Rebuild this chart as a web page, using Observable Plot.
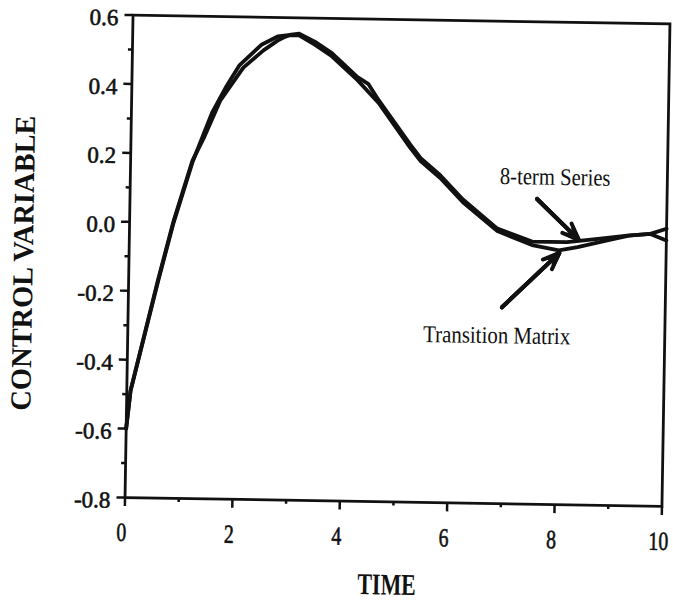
<!DOCTYPE html>
<html><head><meta charset="utf-8">
<script src="https://cdn.jsdelivr.net/npm/d3@7"></script>
<script src="https://cdn.jsdelivr.net/npm/@observablehq/plot@0.6"></script>
<style>
html,body{margin:0;padding:0;background:#fff;}
#chart{width:673px;height:602px;overflow:hidden;background:#fff;}
#chart svg{overflow:visible;}
#chart svg text{font-family:'Liberation Serif','Times New Roman',serif;}
#chart g[aria-label="y-axis tick label"], #chart g[aria-label="y-axis tick label"] text{font-size:23px;font-variant:normal;stroke:#111;stroke-width:0.6px;}
#chart g[aria-label="x-axis tick label"], #chart g[aria-label="x-axis tick label"] text{font-size:26px;font-variant:normal;stroke:#111;stroke-width:0.6px;}
</style></head><body><div id="chart"></div>
<script>
// Transition Matrix solution
const tmTime  = [0, 0.07, 0.55, 0.82, 1.15, 1.5, 1.75, 2.0, 2.4, 2.7, 2.9, 3.1, 3.4, 3.7, 4.2, 4.6, 5.2, 5.4, 5.77, 6.2, 6.85, 7.5, 8.0, 8.35, 8.9, 9.3, 9.7, 10];
const tmValue = [-0.60, -0.49, -0.17, 0.0, 0.175, 0.32, 0.395, 0.46, 0.52, 0.545, 0.549, 0.549, 0.522, 0.492, 0.422, 0.357, 0.229, 0.19, 0.142, 0.073, -0.009, -0.048, -0.062, -0.052, -0.031, -0.016, -0.010, -0.028];
// 8-term Series solution
const seriesTime  = [0, 0.07, 0.55, 0.82, 1.15, 1.35, 1.65, 2.07, 2.44, 2.7, 2.81, 2.95, 3.1, 3.4, 3.7, 4.2, 4.4, 4.6, 5.2, 5.4, 5.77, 6.2, 6.85, 7.5, 8.15, 8.77, 9.27, 9.7, 10];
const seriesValue = [-0.60, -0.49, -0.165, 0.005, 0.18, 0.245, 0.356, 0.453, 0.504, 0.533, 0.542, 0.551, 0.554, 0.531, 0.501, 0.431, 0.412, 0.365, 0.238, 0.199, 0.15, 0.081, -0.002, -0.038, -0.038, -0.026, -0.016, -0.010, 0.006];

const xTickValues = [0, 2, 4, 6, 8, 10];
const xTickLabels = ["0", "2", "4", "6", "8", "10"];
const xMinorTicks = [1, 3, 5, 7, 9];
const yTickValues = [-0.8, -0.6, -0.4, -0.2, 0, 0.2, 0.4, 0.6];
const yTickLabels = ["-0.8", "-0.6", "-0.4", "-0.2", "0.0", "0.2", "0.4", "0.6"];
const yMinorTicks = [-0.7, -0.5, -0.3, -0.1, 0.1, 0.3, 0.5];

const annotationLabels = ["8-term Series", "Transition Matrix"];
const annotationTime   = [7.91, 6.87];
const annotationValue  = [0.15, -0.312];
const arrowTailTime  = [7.58, 6.96];
const arrowTailValue = [0.086, -0.23];
const arrowTipTime   = [8.365, 8.01];
const arrowTipValue  = [-0.03, -0.07];

const xLabel = "TIME";
const yLabel = "CONTROL VARIABLE";

const lineData = [
  ...tmTime.map((t, i) => ({series: "Transition Matrix", time: t, value: tmValue[i]})),
  ...seriesTime.map((t, i) => ({series: "8-term Series", time: t, value: seriesValue[i]}))
];
const arrowIdx = arrowTailTime.map((_, i) => i);
const ink = "#111";
const arrowOpts = (hl, ha) => ({
  x1: i => arrowTailTime[i], y1: i => arrowTailValue[i],
  x2: i => arrowTipTime[i], y2: i => arrowTipValue[i],
  stroke: ink, strokeWidth: 4, headLength: hl, headAngle: ha
});
const serif = "'Liberation Serif', 'Times New Roman', serif";

const chart = Plot.plot({
  width: 673, height: 602,
  marginLeft: 128.5, marginRight: 7.5, marginTop: 19, marginBottom: 100.5,
  x: {domain: [0, 10], label: null},
  y: {domain: [-0.8, 0.6], label: null},
  style: {fontFamily: serif, color: ink, background: "#fff"},
  marks: [
    Plot.axisY(yTickValues, {tickSize: 8, strokeWidth: 2.5, tickFormat: () => ""}),
    Plot.axisY(yMinorTicks, {tickSize: 4, strokeWidth: 2.5, tickFormat: () => ""}),
    Plot.axisY(yTickValues, {tickSize: 0, tickPadding: 14.5, dy: 3, fontSize: 23, fontFamily: serif,
      tickFormat: d => yTickLabels[yTickValues.indexOf(d)]}),
    Plot.axisX(xTickValues, {tickSize: 9, strokeWidth: 2.5, tickFormat: () => ""}),
    Plot.axisX(xMinorTicks, {tickSize: 4, strokeWidth: 2.5, tickFormat: () => ""}),
    Plot.axisX(xTickValues, {tickSize: 0, tickPadding: 25, dx: -3, fontSize: 26, fontFamily: serif,
      tickFormat: d => xTickLabels[xTickValues.indexOf(d)]}),
    Plot.frame({stroke: ink, strokeWidth: 2.8}),
    Plot.line(lineData, {x: "time", y: "value", z: "series", stroke: ink, strokeWidth: 3.8, strokeLinejoin: "round"}),
    Plot.arrow(arrowIdx, arrowOpts(6.6, 44)),
    Plot.arrow(arrowIdx, arrowOpts(4.6, 40)),
    Plot.arrow(arrowIdx, arrowOpts(2.6, 36)),
    Plot.text(annotationLabels, {x: (d, i) => annotationTime[i], y: (d, i) => annotationValue[i],
      text: d => d, fontSize: 24, textAnchor: "middle", lineAnchor: "middle", fill: ink}),
    Plot.text([xLabel], {frameAnchor: "bottom", dx: -5.5, dy: 83, text: d => d, fontSize: 30,
      fontWeight: "bold", textAnchor: "middle", lineAnchor: "middle", fill: ink}),
    Plot.text([yLabel], {frameAnchor: "left", dx: -105.5, dy: 8.5, rotate: -90, text: d => d,
      fontSize: 29, fontWeight: "bold", textAnchor: "middle", lineAnchor: "middle", fill: ink})
  ]
});
chart.style.transformOrigin = "397px 260px";
chart.style.transform = "rotate(0.95deg)";
document.getElementById("chart").append(chart);

function condense(el, f) {
  const w = el.getComputedTextLength();
  if (w > 0) {
    el.setAttribute("textLength", (w * f).toFixed(1));
    el.setAttribute("lengthAdjust", "spacingAndGlyphs");
  }
}
chart.querySelectorAll("text").forEach(t => {
  const s = t.textContent;
  if (s === xLabel) condense(t, 0.73);
  else if (s === yLabel) condense(t, 0.98);
  else if (s === annotationLabels[0]) condense(t, 0.86);
  else if (s === annotationLabels[1]) condense(t, 0.87);
  else if (xTickLabels.includes(s) && t.closest('g[aria-label="x-axis tick label"]')) condense(t, 0.76);
});
</script>
</body></html>
